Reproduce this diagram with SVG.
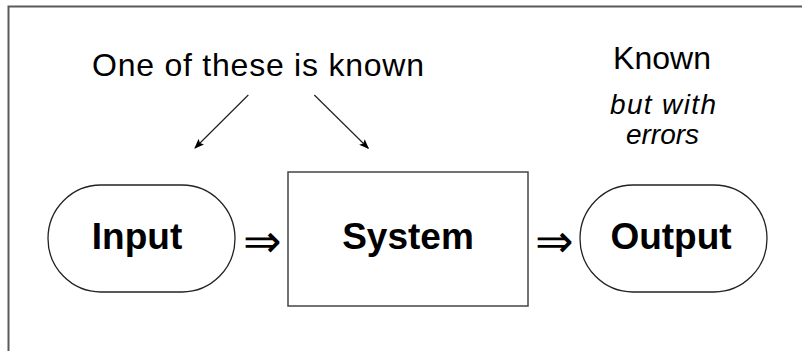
<svg xmlns="http://www.w3.org/2000/svg" width="802" height="351" viewBox="0 0 802 351">
<defs>
<style>
.frame{stroke:#5a5a5a;stroke-width:2;fill:none}
.shape{fill:#fff;stroke:#222;stroke-width:1.3}
.box{fill:#fff;stroke:#444;stroke-width:1.5}
.lbl{font-family:"Liberation Sans",Arial,sans-serif;font-weight:bold;font-size:37px;fill:#000;text-anchor:middle}
.note{font-family:"Liberation Sans",Arial,sans-serif;font-size:32px;fill:#000;text-anchor:middle}
.it{font-family:"Liberation Sans",Arial,sans-serif;font-style:italic;font-size:28px;fill:#000;text-anchor:middle}
.dbl{font-family:"DejaVu Sans",sans-serif;font-weight:200;font-size:46px;fill:#000;text-anchor:middle}
.conn{stroke:#222;stroke-width:1.2;fill:none;marker-end:url(#ah)}
</style>
<marker id="ah" viewBox="0 0 10 8" refX="9" refY="4" markerWidth="10" markerHeight="8" markerUnits="userSpaceOnUse" orient="auto">
<path d="M0,0 L10,4 L0,8 L2,4 Z" fill="#000"/>
</marker>
</defs>
<rect width="802" height="351" fill="#fff"/>
<path class="frame" d="M8.5,351 V6.5 H802"/>
<g id="input">
<rect class="shape" x="48" y="185" width="187" height="107" rx="53" ry="53.5"/>
<text class="lbl" x="137" y="249">Input</text>
</g>
<g id="system">
<rect class="box" x="288" y="172" width="240" height="134"/>
<text class="lbl" x="408" y="249">System</text>
</g>
<g id="output">
<rect class="shape" x="580" y="185" width="187" height="107" rx="53" ry="53.5"/>
<text class="lbl" x="671" y="249">Output</text>
</g>
<g id="note-known-one">
<text class="note" x="258" y="76" textLength="332" lengthAdjust="spacing">One of these is known</text>
</g>
<g id="note-known-errors">
<text class="note" x="662" y="69">Known</text>
<text class="it" x="663" y="114" textLength="106" lengthAdjust="spacing">but with</text>
<text class="it" x="662.5" y="144">errors</text>
</g>
<g id="connectors">
<line class="conn" x1="248.3" y1="95" x2="195" y2="148"/>
<line class="conn" x1="314.3" y1="95" x2="368.3" y2="148.3"/>
<text class="dbl" x="262" y="257">⇒</text>
<text class="dbl" x="554" y="257">⇒</text>
</g>
</svg>
